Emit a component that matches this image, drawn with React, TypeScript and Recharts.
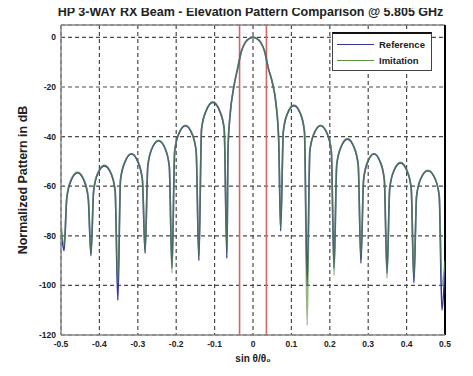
import React from "react";
import {
  LineChart,
  Line,
  XAxis,
  YAxis,
  CartesianGrid,
  ReferenceLine,
  Legend,
} from "recharts";

const titleText = "HP 3-WAY RX Beam - Elevation Pattern Comparison @ 5.805 GHz";
const xLabel = "sin θ/θ₀";
const yLabel = "Normalized Pattern in dB";

const xTicks = [-0.5, -0.4, -0.3, -0.2, -0.1, 0, 0.1, 0.2, 0.3, 0.4, 0.5];
const yTicks = [-120, -100, -80, -60, -40, -20, 0];
const markerLines = [-0.035, 0.035];

const uValues = [
  -0.5, -0.492,
  -0.485, -0.4745, -0.457, -0.4395, -0.429,
  -0.422,
  -0.415, -0.4045, -0.387, -0.3695, -0.359,
  -0.352,
  -0.345, -0.334, -0.3165, -0.299, -0.288,
  -0.281,
  -0.274, -0.2635, -0.246, -0.2285, -0.218,
  -0.211,
  -0.204, -0.1935, -0.176, -0.1585, -0.148,
  -0.141,
  -0.134, -0.123, -0.1045, -0.086, -0.075,
  -0.068,
  -0.065, -0.06, -0.05, -0.04, -0.03, -0.02, -0.01, 0, 0.01, 0.02, 0.03, 0.04, 0.05, 0.06, 0.067,
  0.072,
  0.079, 0.089, 0.1065, 0.124, 0.134,
  0.141,
  0.148, 0.1585, 0.176, 0.1935, 0.204,
  0.211,
  0.218, 0.2285, 0.246, 0.2635, 0.274,
  0.281,
  0.288, 0.298, 0.315, 0.332, 0.342,
  0.349,
  0.356, 0.3665, 0.384, 0.4015, 0.412,
  0.419,
  0.426, 0.437, 0.4555, 0.474, 0.485,
  0.492, 0.5,
];

const referenceDb = [
  -77, -86,
  -65, -58, -54.6, -58, -65,
  -88,
  -62, -55, -51.8, -55, -62,
  -106,
  -57.5, -50.5, -47, -50.5, -57.5,
  -87,
  -52, -45, -41.7, -45, -52,
  -93,
  -46, -39, -35.6, -39, -46,
  -90,
  -37, -30, -26.2, -30, -37,
  -89,
  -45, -32, -20, -12.5, -5.5, -2, -0.5, 0, -0.5, -2, -5.5, -12.5, -18, -27, -42,
  -78,
  -38, -31, -27.5, -31, -38,
  -100,
  -46, -39, -35.6, -39, -46,
  -93,
  -51.5, -44.5, -41, -44.5, -51.5,
  -91,
  -57.5, -50.5, -47, -50.5, -57.5,
  -95,
  -61, -54, -50.6, -54, -61,
  -99,
  -64, -57, -53.8, -57, -64,
  -110, -92,
];

const imitationDb = [
  -75, -84,
  -64.5, -57.5, -54.3, -57.5, -64.5,
  -87,
  -61.5, -54.8, -51.5, -54.8, -61.5,
  -99,
  -57, -50.2, -46.8, -50.2, -57,
  -86,
  -51.8, -44.8, -41.5, -44.8, -51.8,
  -95,
  -45.8, -38.8, -35.4, -38.8, -45.8,
  -88,
  -36.8, -29.8, -26, -29.8, -36.8,
  -86,
  -44, -31.5, -20, -12.5, -5.5, -2, -0.5, 0, -0.5, -2, -5.5, -12.5, -18, -26.5, -41,
  -77,
  -37.8, -30.8, -27.3, -30.8, -37.8,
  -116,
  -45.8, -38.8, -35.4, -38.8, -45.8,
  -96,
  -51.3, -44.3, -40.8, -44.3, -51.3,
  -89,
  -57.3, -50.3, -46.8, -50.3, -57.3,
  -97,
  -60.8, -53.8, -50.4, -53.8, -60.8,
  -97,
  -63.8, -56.8, -53.6, -56.8, -63.8,
  -100, -90,
];

const seriesNames = ["Reference", "Imitation"];
const seriesColors = ["#34349c", "#5a9040"];

const data = uValues.map((u, i) => ({
  u,
  ref: referenceDb[i],
  im: imitationDb[i],
}));

const fmtX = (v: number) => (Math.abs(v) < 1e-9 ? "0" : String(Math.round(v * 10) / 10));

const LegendBox = () => (
  <div
    style={{
      border: "1px solid #444",
      borderTop: "2px solid #111",
      background: "#fff",
      width: 100,
      height: 39,
      boxSizing: "border-box",
      padding: "3px 4px",
      fontFamily: "Liberation Sans, Arial, sans-serif",
      fontSize: 9.5,
      fontWeight: "bold",
      color: "#222",
    }}
  >
    {seriesNames.map((n, i) => (
      <div key={n} style={{ display: "flex", alignItems: "center", height: 15.5 }}>
        <div style={{ width: 37, height: 0, borderTop: `1.5px solid ${seriesColors[i]}`, marginRight: 5 }} />
        <span>{n}</span>
      </div>
    ))}
  </div>
);

export default function App() {
  return (
    <div style={{ position: "relative", width: 465, height: 368 }}>
      <LineChart
        width={465}
        height={368}
        data={data}
        margin={{ top: 17, right: 28, bottom: 0, left: 0 }}
        style={{ fontFamily: "Liberation Sans, Arial, sans-serif" }}
      >
        <CartesianGrid stroke="#4a4a4a" strokeDasharray="4 3" strokeWidth={1.2} />
        <XAxis
          dataKey="u"
          type="number"
          domain={[-0.5, 0.5]}
          ticks={xTicks}
          tickFormatter={fmtX}
          height={41}
          tickSize={0}
          tickMargin={6}
          axisLine={{ stroke: "#888", strokeWidth: 1.5 }}
          tick={{ fontSize: 8.5, fill: "#222", fontWeight: "bold" }}
          label={{ value: xLabel, position: "insideBottom", offset: 14, style: { fontSize: 10, fontWeight: "bold", fill: "#222" } }}
          allowDataOverflow
        />
        <YAxis
          type="number"
          domain={[-120, 5]}
          ticks={yTicks}
          width={53}
          tickSize={0}
          tickMargin={5}
          axisLine={{ stroke: "#888", strokeWidth: 1.5 }}
          tick={{ fontSize: 8.5, fill: "#222", fontWeight: "bold" }}
          label={{
            value: yLabel,
            angle: -90,
            position: "insideLeft",
            offset: 15,
            style: { textAnchor: "middle", fontSize: 12.5, fontWeight: "bold", fill: "#222" },
          }}
          allowDataOverflow
        />
        <ReferenceLine y={5} stroke="#888" strokeWidth={1.5} />
        <ReferenceLine x={0.5} stroke="#000" strokeWidth={2} />
        {markerLines.map((x) => (
          <ReferenceLine key={x} x={x} stroke="#d06868" strokeWidth={1.6} />
        ))}
        <Line
          dataKey="ref"
          name={seriesNames[0]}
          type="monotone"
          stroke={seriesColors[0]}
          strokeWidth={1.6}
          dot={false}
          isAnimationActive={false}
        />
        <Line
          dataKey="im"
          name={seriesNames[1]}
          type="monotone"
          stroke={seriesColors[1]}
          strokeWidth={1.6}
          strokeOpacity={0.65}
          dot={false}
          isAnimationActive={false}
        />
        <Legend
          layout="vertical"
          align="center"
          verticalAlign="middle"
          content={() => <LegendBox />}
          wrapperStyle={{ left: 324, top: 24, width: 100, height: 39 }}
        />
      </LineChart>
      <div
        style={{
          position: "absolute",
          top: -3,
          left: 10,
          width: 465,
          textAlign: "center",
          whiteSpace: "nowrap",
          fontFamily: "Liberation Sans, Arial, sans-serif",
          fontWeight: "bold",
          fontSize: 12.5,
          lineHeight: "15px",
          color: "#222",
          pointerEvents: "none",
        }}
      >
        {titleText}
      </div>
    </div>
  );
}
